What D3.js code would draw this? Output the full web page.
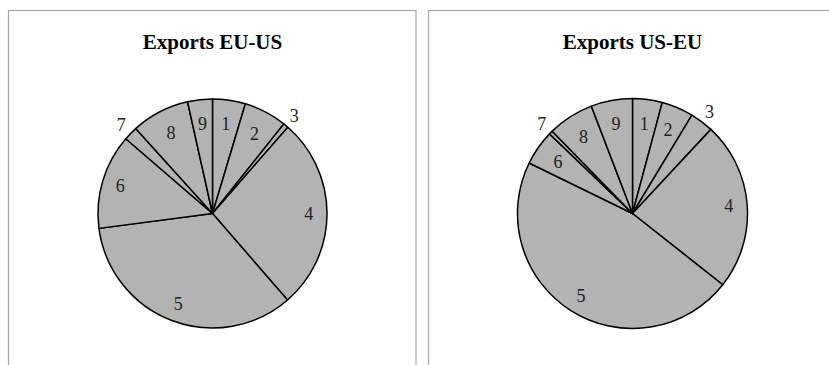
<!DOCTYPE html>
<html>
<head>
<meta charset="utf-8">
<script src="https://cdn.jsdelivr.net/npm/d3@7"></script>
<style>
  html, body { margin: 0; padding: 0; background: #fff; }
  svg { display: block; }
</style>
</head>
<body>
<div id="chart"></div>
<script>
// slice labels, clockwise from 12 o'clock
const categories = ["1", "2", "3", "4", "5", "6", "7", "8", "9"];

// shares in percent
const exportsEuUs = [4.64, 6.06, 0.72, 27.2, 34.3, 13.4, 1.97, 8.2, 3.5];
const exportsUsEu = [4.17, 4.47, 3.3, 23.7, 46.6, 4.94, 0.53, 6.47, 5.83];

const titles = ["Exports EU-US", "Exports US-EU"];

const width = 829, height = 365;

const svg = d3.select("#chart").append("svg")
    .attr("width", width)
    .attr("height", height);

const panels = [
    {x: 8.5, w: 407.5, cx: 212.5, r: 114.5, title: titles[0], values: exportsEuUs},
    {x: 428.5, w: 420, cx: 632.5, r: 115, title: titles[1], values: exportsUsEu}
];

const pie = d3.pie().sort(null).value(d => d);

panels.forEach(p => {
    const g = svg.append("g");

    // chart area border
    g.append("rect")
        .attr("x", p.x)
        .attr("y", 10.5)
        .attr("width", p.w)
        .attr("height", 400)
        .attr("fill", "#fff")
        .attr("stroke", "#a6a6a6")
        .attr("stroke-width", 1.2);

    g.append("text")
        .attr("x", p.cx)
        .attr("y", 49)
        .attr("text-anchor", "middle")
        .attr("font-family", "Liberation Serif, serif")
        .attr("font-weight", "bold")
        .attr("font-size", 21)
        .attr("fill", "#000")
        .text(p.title);

    const cy = 213.5;
    const arcs = pie(p.values).map((d, i) => Object.assign(d, {label: categories[i]}));

    const arc = d3.arc().innerRadius(0).outerRadius(p.r);

    const pieG = g.append("g")
        .attr("transform", `translate(${p.cx},${cy})`);

    pieG.selectAll("path")
        .data(arcs)
        .join("path")
        .attr("d", arc)
        .attr("fill", "#b3b3b3")
        .attr("stroke", "#000")
        .attr("stroke-width", 1.5)
        .attr("stroke-linejoin", "round");

    // best-fit style labels: tiny slices go outside
    const labelRadius = d => {
        if (d.value < 3.4) return p.r + 13;
        if (d.value < 10) return p.r * 0.79;
        return p.r * 0.84;
    };

    pieG.selectAll("text")
        .data(arcs)
        .join("text")
        .attr("transform", d => {
            const lr = labelRadius(d);
            const c = d3.arc().innerRadius(lr).outerRadius(lr).centroid(d);
            return `translate(${c[0]},${c[1]})`;
        })
        .attr("text-anchor", "middle")
        .attr("dy", "0.35em")
        .attr("font-family", "Liberation Serif, serif")
        .attr("font-size", 18)
        .attr("fill", "#222")
        .text(d => d.label);
});
</script>
</body>
</html>
